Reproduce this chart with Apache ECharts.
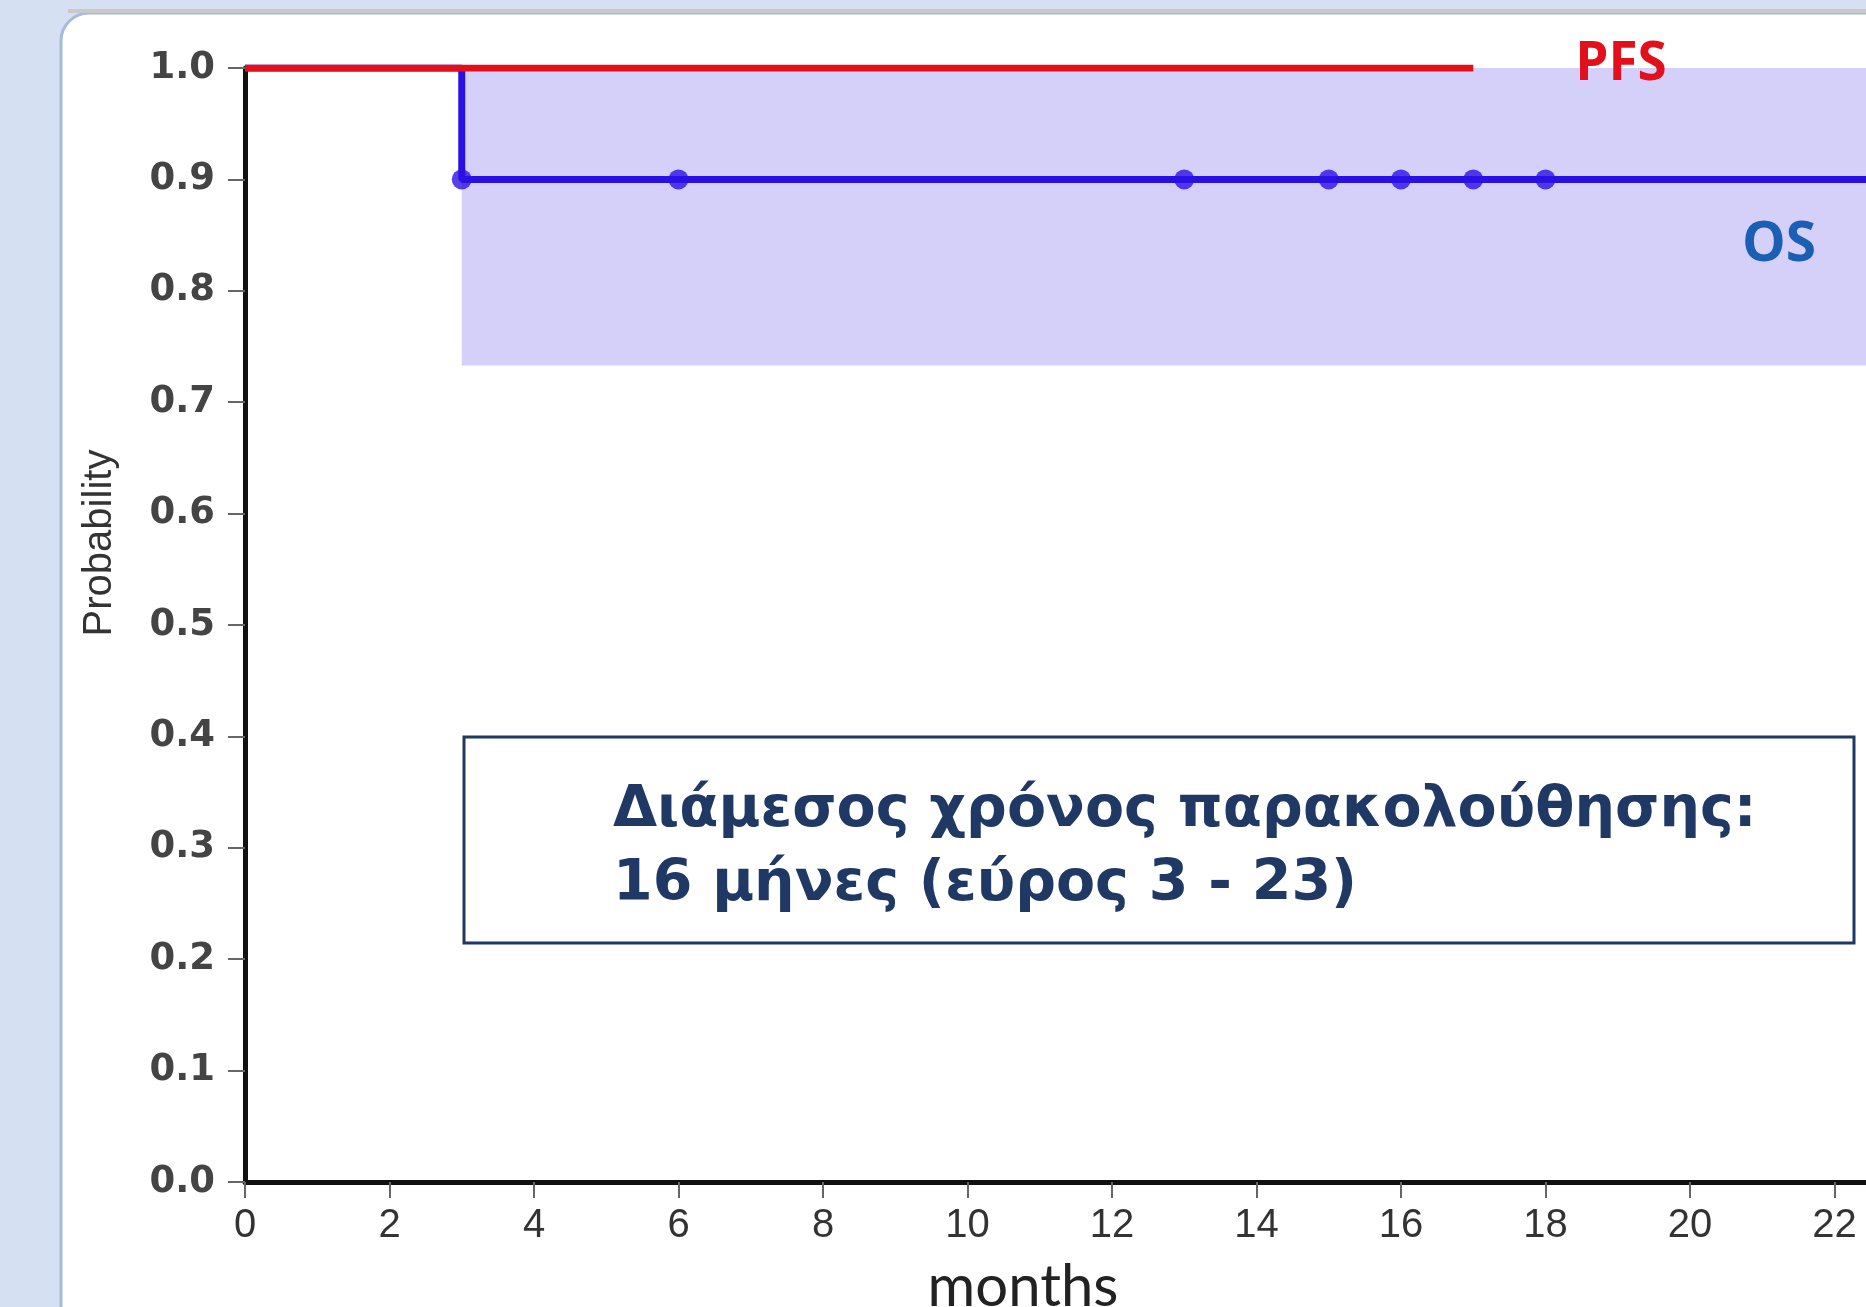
<!DOCTYPE html>
<html><head><meta charset="utf-8">
<script src="https://cdn.jsdelivr.net/npm/echarts@6/dist/echarts.min.js"></script>
<style>html,body{margin:0;padding:0;background:#d5e1f2;overflow:hidden}#c{width:1866px;height:1307px}</style>
</head><body><div id="c"></div>
<script>
// ---- data ----
const pfsMonths = [0, 17];
const pfsProb = [1.0, 1.0];
const osMonths = [0, 3, 24];
const osProb = [1.0, 0.9, 0.9];
const censorMonths = [3, 6, 13, 15, 16, 17, 18];
const censorProb = [0.9, 0.9, 0.9, 0.9, 0.9, 0.9, 0.9];
const bandMonths = [3, 24];
const bandProb = [0.733, 1.0];
const xMin = 0, xMax = 24, xStep = 2;
const yMin = 0, yMax = 1, yStep = 0.1;
const pfsLabel = 'PFS';
const osLabel = 'OS';
const boxLines = ['Διάμεσος χρόνος παρακολούθησης:', '16 μήνες (εύρος 3 - 23)'];
const xName = 'months';
const yName = 'Probability';

const zip = (a, b) => a.map((v, i) => [v, b[i]]);

const chart = echarts.init(document.getElementById('c'), null, {renderer: 'canvas'});
const navy = '#1f3864';
chart.setOption({
  backgroundColor: '#d5e1f2',
  animation: false,
  grid: {left: 245, top: 68, width: 1734, height: 1114, containLabel: false, outerBoundsMode: 'none'},
  xAxis: {
    type: 'value', min: xMin, max: xMax, interval: xStep,
    axisLine: {show: true, lineStyle: {color: '#111', width: 5}},
    axisTick: {show: true, inside: false, length: 16, lineStyle: {color: '#666', width: 2}},
    axisLabel: {margin: 24, color: '#333', fontFamily: 'Liberation Sans', fontSize: 40},
    splitLine: {show: false}
  },
  yAxis: {
    type: 'value', min: yMin, max: yMax, interval: yStep,
    axisLine: {show: true, onZero: false, lineStyle: {color: '#111', width: 5}},
    axisTick: {show: true, inside: false, length: 17, lineStyle: {color: '#666', width: 2}},
    axisLabel: {margin: 30, color: '#444', fontFamily: 'DejaVu Sans', fontWeight: 'bold', fontSize: 37,
      formatter: v => v.toFixed(1)},
    splitLine: {show: false}
  },
  series: [
    {
      name: 'band', type: 'line', data: [], z: 1, silent: true,
      markArea: {silent: true, itemStyle: {color: '#d4d0fa', opacity: 1},
        data: [[{xAxis: bandMonths[0], yAxis: bandProb[0]}, {xAxis: bandMonths[1], yAxis: bandProb[1]}]]}
    },
    {
      name: 'OS', type: 'line', step: 'end', data: zip(osMonths, osProb), z: 3,
      showSymbol: false, lineStyle: {color: '#2b10e3', width: 7}, itemStyle: {color: '#2b10e3'}
    },
    {
      name: 'censor', type: 'scatter', data: zip(censorMonths, censorProb), z: 4,
      symbol: 'circle', symbolSize: 20, itemStyle: {color: '#2b10e3'}
    },
    {
      name: 'PFS', type: 'line', data: zip(pfsMonths, pfsProb), z: 5,
      showSymbol: false, lineStyle: {color: '#e3101c', width: 7}
    }
  ],
  graphic: [
    {type: 'rect', z: -20, shape: {x: 61, y: 13, width: 1900, height: 1400, r: [28, 0, 0, 0]},
      style: {fill: '#ffffff', stroke: '#a5badf', lineWidth: 3}},
    {type: 'rect', z: -19, shape: {x: 68, y: 9, width: 1900, height: 4},
      style: {fill: '#c9c9c9'}},
    {type: 'text', z: 50, x: 1621, y: 65, style: {text: pfsLabel, fill: '#e3101c',
      font: 'bold 53px "Open Sans"', textAlign: 'center', textVerticalAlign: 'middle'}},
    {type: 'text', z: 50, x: 1779, y: 245, style: {text: osLabel, fill: '#1a5fb4',
      font: 'bold 55px "Open Sans"', textAlign: 'center', textVerticalAlign: 'middle'}},
    {type: 'rect', z: 40, shape: {x: 464, y: 737, width: 1390, height: 206},
      style: {fill: '#ffffff', stroke: navy, lineWidth: 3}},
    {type: 'text', z: 50, x: 613, y: 811, style: {text: boxLines[0], fill: navy,
      font: 'bold 57px "DejaVu Sans"', textAlign: 'left', textVerticalAlign: 'middle'}},
    {type: 'text', z: 50, x: 613, y: 885, style: {text: boxLines[1], fill: navy,
      font: 'bold 57px "DejaVu Sans"', textAlign: 'left', textVerticalAlign: 'middle'}},
    {type: 'text', z: 50, x: 1023, y: 1287, style: {text: xName, fill: '#222',
      font: '58px Lato', textAlign: 'center', textVerticalAlign: 'middle'}},
    {type: 'text', z: 50, x: 100, y: 543, rotation: Math.PI / 2, style: {text: yName, fill: '#333',
      font: '40px "Liberation Sans"', textAlign: 'center', textVerticalAlign: 'middle'}}
  ]
});
</script>
</body></html>
